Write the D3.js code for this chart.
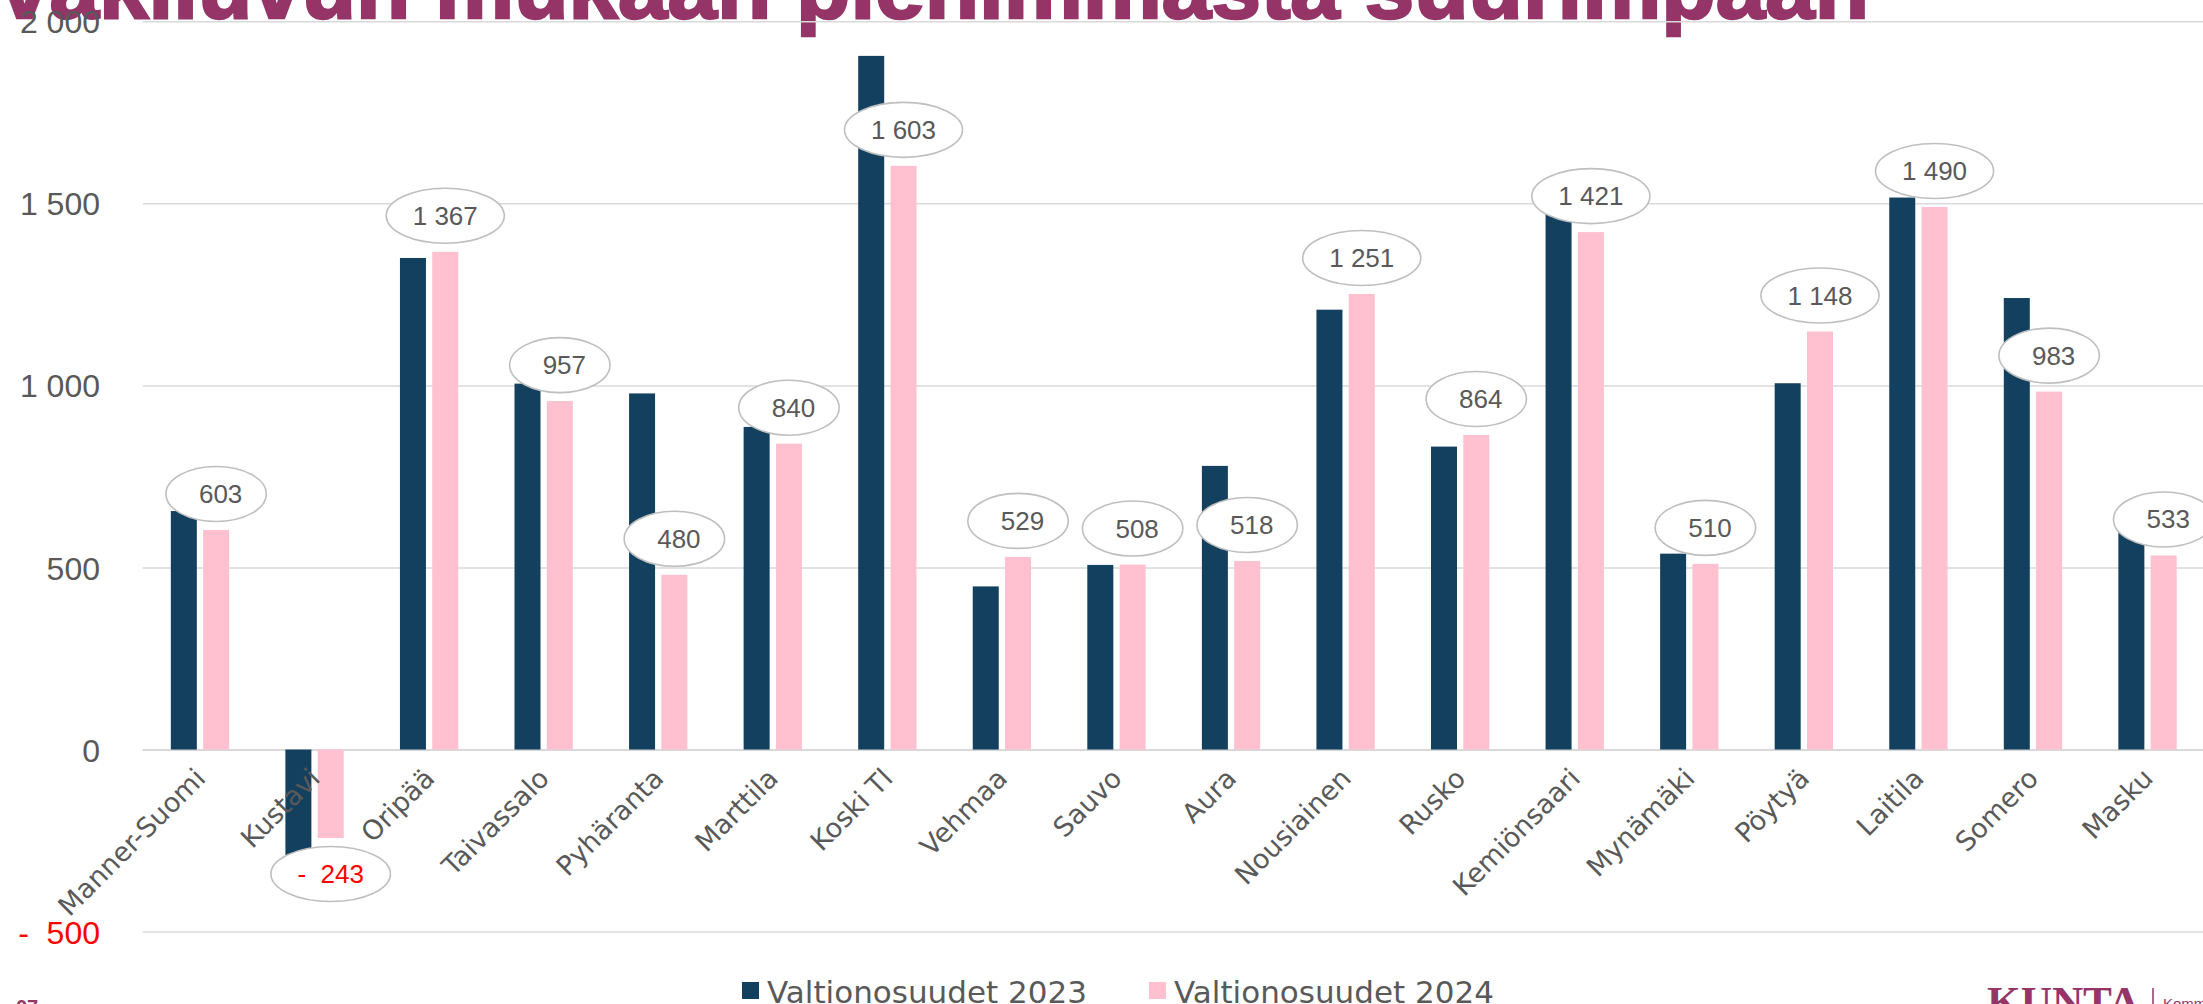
<!DOCTYPE html>
<html>
<head>
<meta charset="utf-8">
<script src="https://cdn.jsdelivr.net/npm/d3@7"></script>
<style>
  html, body { margin: 0; padding: 0; background: #fff; overflow: hidden; }
  svg { display: block; }
</style>
</head>
<body>
<svg id="chart" width="2203" height="1004"></svg>
<script>
// ---- data ----
const categories = ["Manner-Suomi","Kustavi","Oripää","Taivassalo","Pyhäranta","Marttila","Koski Tl","Vehmaa","Sauvo","Aura","Nousiainen","Rusko","Kemiönsaari","Mynämäki","Pöytyä","Laitila","Somero","Masku"];
const values2023 = [655, -290, 1350, 1005, 978, 886, 1905, 448, 507, 779, 1208, 832, 1480, 538, 1006, 1516, 1240, 605];
const values2024 = [603, -243, 1367, 957, 480, 840, 1603, 529, 508, 518, 1251, 864, 1421, 510, 1148, 1490, 983, 533];
const seriesNames = ["Valtionosuudet 2023", "Valtionosuudet 2024"];
const yTicks = [-500, 0, 500, 1000, 1500, 2000];
const titleText = "vakiluvun mukaan pienimmästä suurimpaan";

// ---- setup ----
const W = 2203, H = 1004;
const svg = d3.select("#chart");
const colors = { [seriesNames[0]]: "#13405f", [seriesNames[1]]: "#ffc0cf" };
const grey = "#595959";

const fmt = v => {
  const s = d3.format(",")(Math.abs(v)).replace(/,/g, " ");
  return v < 0 ? "-  " + s : s;
};

const x0 = d3.scaleBand().domain(categories).range([142.7, 2204.8]).paddingInner(0.491).paddingOuter(0.2455);
const x1 = d3.scaleBand().domain(seriesNames).range([0, x0.bandwidth()]).paddingInner(0.195);
const y = d3.scaleLinear().domain([-500, 2000]).range([931.6, 21.3]);

// ---- title (partially outside the frame) ----
svg.append("text")
  .attr("x", 0).attr("y", 18)
  .attr("textLength", 1869).attr("lengthAdjust", "spacingAndGlyphs")
  .style("font-family", "'Liberation Sans', Arial, sans-serif")
  .style("font-weight", "bold").style("font-size", "88px")
  .attr("fill", "#953567").attr("stroke", "#953567").attr("stroke-width", 2.5)
  .text(titleText);

// ---- gridlines ----
const grid = svg.append("g").attr("transform", "translate(142.7,0)")
  .call(d3.axisLeft(y).tickValues(yTicks).tickSize(-(W - 142.7)).tickFormat(""));
grid.select(".domain").remove();
grid.selectAll(".tick line").attr("stroke", "#d9d9d9").attr("stroke-width", d => d === 0 ? 2 : 1.5);

// ---- y labels ----
const yAx = svg.append("g").attr("transform", "translate(100,0)")
  .call(d3.axisLeft(y).tickValues(yTicks).tickSize(0).tickPadding(0).tickFormat(fmt));
yAx.select(".domain").remove();
yAx.selectAll("text")
  .style("font-family", "'Liberation Sans', Arial, sans-serif")
  .style("font-size", "32px").style("white-space", "pre")
  .attr("dy", "0.36em")
  .attr("fill", d => d < 0 ? "#ff0000" : grey);

// ---- bars ----
const rows = categories.map((c, i) => ({ cat: c, vals: [values2023[i], values2024[i]] }));
const groups = svg.append("g").selectAll("g").data(rows).join("g")
  .attr("transform", d => `translate(${x0(d.cat)},0)`);
groups.selectAll("rect")
  .data(d => seriesNames.map((s, k) => ({ s, v: d.vals[k] })))
  .join("rect")
  .attr("x", d => x1(d.s))
  .attr("width", x1.bandwidth())
  .attr("y", d => y(Math.max(0, d.v)))
  .attr("height", d => Math.abs(y(d.v) - y(0)))
  .attr("fill", d => colors[d.s]);

// ---- x labels ----
const xAx = svg.append("g").attr("transform", "translate(0,780)")
  .call(d3.axisBottom(x0).tickSize(0));
xAx.select(".domain").remove();
xAx.selectAll("text")
  .attr("x", 0).attr("y", 0).attr("dy", 0)
  .attr("transform", "translate(7,0) rotate(-45)")
  .attr("text-anchor", "end")
  .style("font-family", "'DejaVu Sans', Verdana, sans-serif")
  .style("font-size", "27px")
  .attr("fill", grey);

// ---- data labels for 2024 with ellipse callouts ----
const lbl = svg.append("g").selectAll("g").data(rows).join("g")
  .attr("transform", d => {
    const cx = x0(d.cat) + x1(seriesNames[1]) + x1.bandwidth() / 2;
    const v = d.vals[1];
    const cy = v >= 0 ? y(v) - 36 : y(v) + 36;
    return `translate(${cx},${cy})`;
  });
lbl.append("ellipse").attr("cx", 0).attr("cy", 0).attr("ry", 27.5)
  .attr("fill", "#fff").attr("stroke", "#bfbfbf").attr("stroke-width", 1.6);
const lt = lbl.append("text")
  .attr("x", d => (d.vals[1] >= 0 && d.vals[1] < 1000) ? 4.5 : 0)
  .attr("y", 9)
  .attr("text-anchor", "middle")
  .style("font-family", "'Liberation Sans', Arial, sans-serif")
  .style("font-size", "26px").style("white-space", "pre")
  .attr("fill", d => d.vals[1] < 0 ? "#ff0000" : grey)
  .text(d => fmt(d.vals[1]));
lt.each(function (d) {
  const w = this.getComputedTextLength();
  const pad = (d.vals[1] >= 0 && d.vals[1] < 1000) ? 57 : 53;
  d3.select(this.parentNode).select("ellipse").attr("rx", (w + pad) / 2);
});

// ---- legend ----
const legendX = [742, 1149];
const leg = svg.append("g").selectAll("g").data(seriesNames).join("g")
  .attr("transform", (d, i) => `translate(${legendX[i]},0)`);
leg.append("rect").attr("x", 0).attr("y", 982).attr("width", 17).attr("height", 17)
  .attr("fill", d => colors[d]);
leg.append("text").attr("x", 25).attr("y", 1003)
  .style("font-family", "'DejaVu Sans', Verdana, sans-serif")
  .style("font-size", "31px").attr("fill", grey)
  .text(d => d);

// ---- footer fragments ----
svg.append("text").attr("x", 16).attr("y", 1014)
  .style("font-family", "'Liberation Sans', Arial, sans-serif")
  .style("font-weight", "bold").style("font-size", "20px")
  .attr("fill", "#953567").text("07");
svg.append("text").attr("x", 1987).attr("y", 1016)
  .attr("textLength", 153).attr("lengthAdjust", "spacingAndGlyphs")
  .style("font-family", "'Liberation Serif', 'Times New Roman', serif")
  .style("font-weight", "bold").style("font-size", "42px")
  .attr("fill", "#953567").text("KUNTA");
svg.append("line").attr("x1", 2153).attr("x2", 2153).attr("y1", 988).attr("y2", 1004)
  .attr("stroke", "#953567").attr("stroke-width", 1.5);
svg.append("text").attr("x", 2163).attr("y", 1009)
  .style("font-family", "'Liberation Sans', Arial, sans-serif")
  .style("font-size", "15px").attr("fill", "#953567").text("Kommuntorget");
</script>
</body>
</html>
